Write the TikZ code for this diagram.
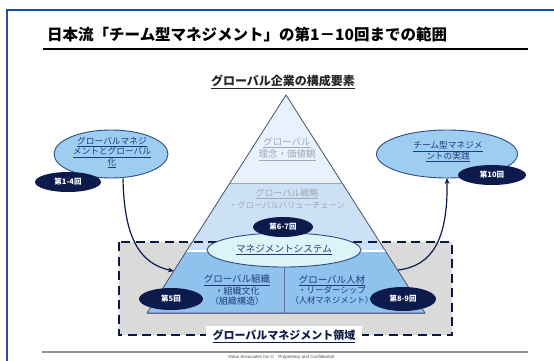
\documentclass[tikz,border=0pt]{standalone}
\usepackage{fontspec}
\setmainfont{Liberation Sans}
\newfontfamily\jp{Noto Sans CJK JP}
\usetikzlibrary{shapes.geometric,arrows.meta}
\definecolor{frameblue}{HTML}{1F4FA6}
\definecolor{navy}{HTML}{0D1B4C}
\definecolor{ellblue}{HTML}{9ECDF2}
\definecolor{ellline}{HTML}{2E4C86}
\definecolor{tierA}{HTML}{E8F2FC}
\definecolor{tierB}{HTML}{CCE1F5}
\definecolor{tierC}{HTML}{8FC3EE}
\definecolor{mgmtfill}{HTML}{DDF4F8}
\definecolor{boxgrey}{HTML}{DADADA}
\definecolor{fadetext}{HTML}{A2A9B3}
\definecolor{linktext}{HTML}{1E3A7A}
\definecolor{pyrline}{HTML}{4A5068}
\begin{document}
\begin{tikzpicture}[x=1pt,y=-1pt,
  bigell/.style={ellipse,draw=ellline,line width=0.9pt,fill=ellblue,inner sep=0},
  badge/.style={ellipse,fill=navy,inner sep=0,text=white,font=\jp\bfseries\fontsize{7.5}{8}\selectfont},
  linktxt/.style={align=center,text=linktext,inner sep=0,font=\jp\fontsize{8.7}{10.6}\selectfont},
  fadetxt/.style={align=center,text=fadetext,inner sep=0,font=\jp\fontsize{9.5}{12}\selectfont},
  arr/.style={draw=navy,line width=1.2pt,-{Stealth[length=6pt,width=5pt]}},
]
\useasboundingbox (0,0) rectangle (554,360);
\fill[white] (0,0) rectangle (554,360);
% frame
\draw[frameblue,line width=2pt] (7,362) -- (7,10) -- (556,10);
% title
\node[anchor=west,inner sep=0,font=\jp\bfseries\fontsize{15.5}{16}\selectfont] (title) at (47,35) {日本流「チーム型マネジメント」の第1－10回までの範囲};
\draw[black,line width=1.8pt] (43,49) -- (528,49);
% subtitle
\node[inner sep=0,font=\jp\bfseries\fontsize{12}{13}\selectfont,text=black!85] (sub) at (283,82) {\underline{グローバル企業の構成要素}};
% grey domain box
\fill[boxgrey] (119,242) rectangle (452,335);
% pyramid tiers
\fill[tierA] (286,95) -- (342.1,183) -- (229.9,183) -- cycle;
\fill[tierB] (229.9,183) -- (342.1,183) -- (385.5,251) -- (186.5,251) -- cycle;
\fill[tierC] (186.5,251) -- (385.5,251) -- (425,313) -- (147,313) -- cycle;
\draw[gray!70,line width=0.8pt] (229.9,183) -- (342.1,183);
\draw[white,line width=1.2pt] (186.5,251) -- (385.5,251);
\draw[pyrline,line width=0.8pt] (286,95) -- (147,313) -- (425,313) -- cycle;
\draw[gray!80!blue,line width=1.2pt] (147,313.5) -- (425,313.5);
\draw[ellline!80,line width=0.8pt] (284,266) -- (284,313);
% dashed border
\draw[navy!90!black,line width=1.7pt,dash pattern=on 9pt off 5.5pt] (119,242) rectangle (452,335);
% tier texts
\node[fadetxt] (t1) at (287,149) {\underline{グローバル}\\\underline{理念・価値観}};
\node[fadetxt,font=\jp\fontsize{9}{12.5}\selectfont] (t2) at (287,199) {\underline{グローバル戦略}\\{\fontsize{8.3}{10}\selectfont ・グローバルバリューチェーン}};
\node[linktxt,font=\jp\fontsize{9.5}{10.2}\selectfont] (t3) at (237,290) {\underline{グローバル組織}\\{\fontsize{9}{10}\selectfont ・組織文化}\\{\fontsize{9}{10}\selectfont （組織構造）}};
\node[linktxt,font=\jp\fontsize{9.5}{10.2}\selectfont] (t4) at (332,290) {\underline{グローバル人材}\\{\fontsize{8.5}{10}\selectfont ・リーダーシップ}\\{\fontsize{8.3}{10}\selectfont （人材マネジメント）}};
% management system ellipse
\node[ellipse,draw=ellline,line width=0.9pt,fill=mgmtfill,minimum width=154pt,minimum height=34pt,inner sep=0] (mgmt) at (284,250) {};
\node[linktxt,font=\jp\fontsize{9.6}{11}\selectfont] (mgmttxt) at (284,250) {\underline{マネジメントシステム}};
% side ellipses
\node[bigell,minimum width=114pt,minimum height=48pt] (lell) at (111,154) {};
\node[linktxt] (lelltxt) at (112,152.5) {\underline{グローバルマネジ}\\\underline{メントとグローバル}\\\underline{化}};
\node[bigell,minimum width=141pt,minimum height=48pt] (rell) at (447,154) {};
\node[linktxt] (relltxt) at (448,152) {\underline{チーム型マネジメ}\\\underline{ントの実践}};
% arrows
\coordinate (la1) at (123,178.5);
\coordinate (la2) at (174,271);
\coordinate (ra1) at (398,270);
\coordinate (ra2) at (447,178);
\draw[arr] (la1) .. controls (124,238) and (140,264) .. (la2);
\draw[arr] (ra1) .. controls (432,266) and (448,240) .. (ra2);
% badges
\node[badge,minimum width=66pt,minimum height=20pt] (b14) at (68,182) {第1-4回};
\node[badge,minimum width=68pt,minimum height=20pt] (b10) at (492,175) {第10回};
\node[badge,minimum width=60pt,minimum height=20pt] (b67) at (283,227) {第6-7回};
\node[badge,minimum width=64pt,minimum height=22pt] (b5) at (171,299) {第5回};
\node[badge,minimum width=66pt,minimum height=24pt] (b89) at (403,299) {第8-9回};
% domain label
\node[fill=white,inner xsep=7pt,inner ysep=4pt,text=navy,font=\jp\bfseries\fontsize{11}{12}\selectfont] (dom) at (284,336) {\underline{グローバルマネジメント領域}};
% footer
\draw[gray!85,line width=1.6pt] (42,352) -- (528,352);
\node[inner sep=0,text=black!70,font=\fontsize{4.5}{5}\selectfont] (foot) at (281,357) {Value Associates Inc ©\quad Proprietary and Confidential};
\end{tikzpicture}
\end{document}
